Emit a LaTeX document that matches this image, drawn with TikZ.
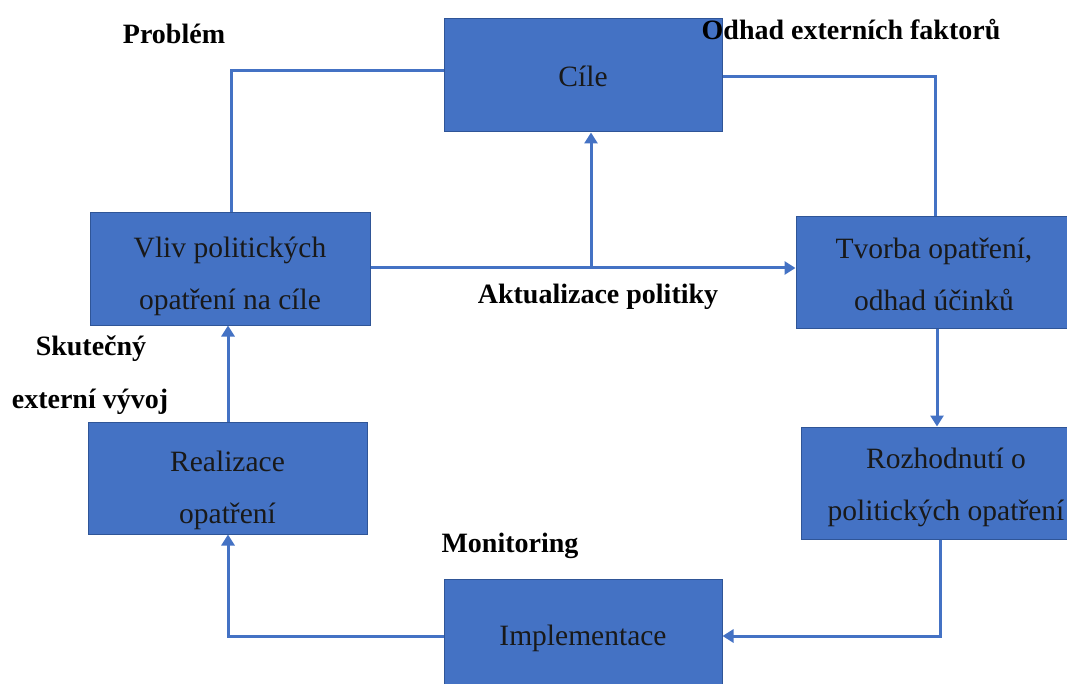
\documentclass[tikz,border=0pt]{standalone}
\usepackage{fontspec}
\setmainfont{Liberation Serif}
\usetikzlibrary{arrows.meta,calc}
\definecolor{boxblue}{HTML}{4472C4}
\definecolor{boxedge}{HTML}{2F5597}
\definecolor{linkblue}{HTML}{4472C4}
\begin{document}
\begin{tikzpicture}[x=1pt,y=-1pt,
  box/.style={draw=boxedge,line width=1pt,fill=boxblue,inner sep=0pt},
  boxtext/.style={align=center,inner sep=0pt,font=\fontsize{29.5}{52}\selectfont,text=black!90},
  lab/.style={font=\fontsize{28}{30}\selectfont\bfseries,inner sep=0pt},
  link/.style={draw=linkblue,line width=3pt},
  arr/.style={link,-{Triangle[width=13pt,length=11pt]}}]
\useasboundingbox (0,0) rectangle (1067,684);
\clip (0,0) rectangle (1067,684);
% boxes
\node[box,minimum width=278pt,minimum height=113pt] (cile) at (583,75.5) {};
\node[box,minimum width=280pt,minimum height=112pt] (vliv) at (230,269) {};
\node[box,minimum width=276pt,minimum height=111pt] (tvorba) at (934,272.5) {};
\node[box,minimum width=294pt,minimum height=112pt] (rozh) at (948,483) {};
\node[box,minimum width=279pt,minimum height=112pt] (real) at (227.5,478) {};
\node[box,minimum width=278pt,minimum height=112pt] (impl) at (583,635) {};
% box texts
\node[boxtext] (cilet) at (583,76) {Cíle};
\node[boxtext] (vlivt) at (230,276) {Vliv politických\\opatření na cíle};
\node[boxtext] (tvorbat) at (934,274) {Tvorba opatření,\\odhad účinků};
\node[boxtext] (rozht) at (946,487) {Rozhodnutí o\\politických opatření};
\node[boxtext] (realt) at (227.5,490) {Realizace\\opatření};
\node[boxtext] (implt) at (583,638) {Implementace};
% labels
\node[lab] (problem) at (174,34) {Problém};
\node[lab] (odhad) at (851,30) {Odhad externích faktorů};
\node[lab] (aktual) at (598,297) {Aktualizace politiky};
\node[lab] (skut) at (91,349) {Skutečný};
\node[lab] (extvyv) at (90,402) {externí vývoj};
\node[lab] (monit) at (510,546) {Monitoring};
% coordinates
\coordinate (pl) at (231,71);
\coordinate (pr) at (935,77);
\coordinate (pj) at (591,268);
\coordinate (pd) at (940,636);
\coordinate (pb) at (228,636);
% connectors
\draw[link] (cile.west |- pl) -- (pl) -- (pl |- vliv.north);
\draw[link] (cile.east |- pr) -- (pr) -- (pr |- tvorba.north);
\draw[arr] (vliv.east |- pj) -- (tvorba.west |- pj);
\draw[arr] (pj) -- (pj |- cile.south);
\draw[arr] (tvorba.south -| 937,0) -- (rozh.north -| 937,0);
\draw[arr] (rozh.south -| pd) -- (pd) -- (impl.east |- pd);
\draw[arr] (impl.west |- pb) -- (pb) -- (pb |- real.south);
\draw[arr] (real.north -| pb) -- (vliv.south -| pb);
\end{tikzpicture}
\end{document}
